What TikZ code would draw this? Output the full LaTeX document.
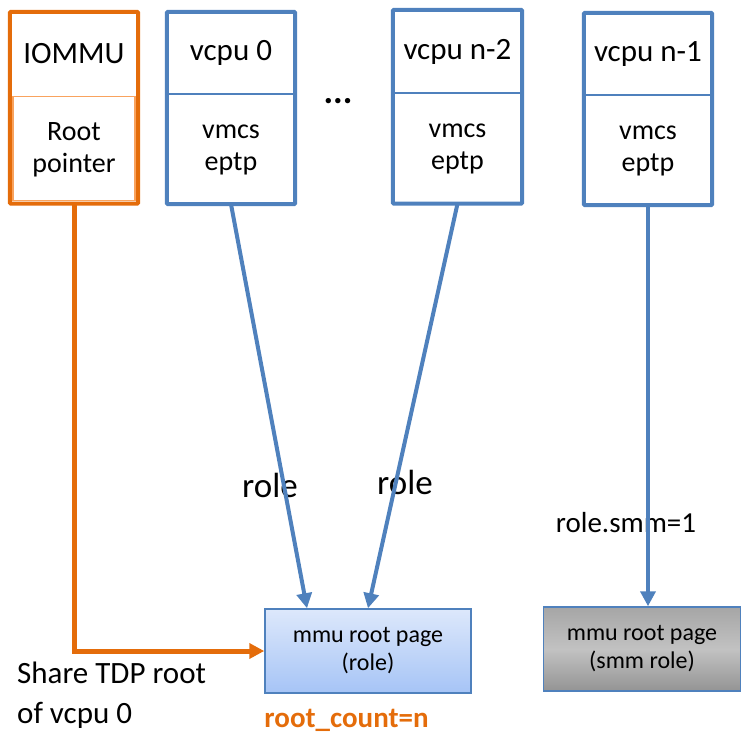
\documentclass[tikz,border=0pt]{standalone}
\usepackage{fontspec}
\setmainfont{Carlito}
\usetikzlibrary{arrows.meta}
\definecolor{boxblue}{HTML}{4F81BD}
\definecolor{iommuorange}{HTML}{E46C0A}
\definecolor{lightorange}{HTML}{F9A35E}
\definecolor{pagetop}{HTML}{DDE8FB}
\definecolor{pagebottom}{HTML}{A6C4F6}
\newcommand{\fsz}[2]{\fontsize{#1}{#2}\selectfont}

\begin{document}
\begin{tikzpicture}[x=1pt, y=-1pt,
    cell/.style={minimum width=128pt, inner sep=0pt, align=center, font=\fsz{31}{38}},
    body/.style={minimum width=128pt, inner sep=0pt, align=center, font=\fsz{28}{32}},
    frame/.style={line width=4pt, rounded corners=1pt},
    divider/.style={line width=1.5pt},
    link/.style={line width=4pt, boxblue, -{Triangle[length=15pt, width=15pt]}},
    page/.style={draw=boxblue, line width=1.5pt, minimum height=84pt,
      align=center, font=\fsz{24}{28}},
    lbl/.style={inner sep=0pt, font=\fsz{35}{40}}]
  \useasboundingbox (0,0) rectangle (742,736);

  \node[cell, minimum height=83pt] (iommu) at (74,53.5) {IOMMU};
  \node[body, minimum height=107pt] (iommuptr) at (74,150) {Root\\pointer};
  \draw[frame, iommuorange] (iommu.north west) rectangle (iommuptr.south east);
  \draw[lightorange, line width=1.5pt] ([shift={(3,0)}]iommuptr.north west)
    rectangle ([shift={(-3,-3)}]iommuptr.south east);

  \node[cell, minimum height=82pt] (cpu0) at (231,53) {vcpu 0};
  \node[body, minimum height=108pt] (cpu0eptp) at (231,150) {vmcs\\eptp};
  \draw[frame, boxblue] (cpu0.north west) rectangle (cpu0eptp.south east);
  \draw[divider, boxblue] (cpu0.south west) -- (cpu0.south east);

  \node[font=\bfseries\fsz{36}{40}] (dots) at (338,101) {...};

  \node[cell, minimum width=129pt, minimum height=83pt] (cpun2) at (457.5,51.5) {vcpu n-2};
  \node[body, minimum width=129pt, minimum height=109pt] (cpun2eptp) at (457.5,149) {vmcs\\eptp};
  \draw[frame, boxblue] (cpun2.north west) rectangle (cpun2eptp.south east);
  \draw[divider, boxblue] (cpun2.south west) -- (cpun2.south east);

  \node[cell, minimum height=82pt] (cpun1) at (648,54) {vcpu n-1};
  \node[body, minimum height=108pt] (cpun1eptp) at (648,151) {vmcs\\eptp};
  \draw[frame, boxblue] (cpun1.north west) rectangle (cpun1eptp.south east);
  \draw[divider, boxblue] (cpun1.south west) -- (cpun1.south east);

  \node[page, minimum width=206pt, top color=pagetop, bottom color=pagebottom]
    (mmu) at (368,651) {mmu root page\\(role)};
  \node[page, minimum width=197pt, top color=black!35, bottom color=black!42,
    middle color=black!24] (smm) at (642,649) {mmu root page\\(smm role)};

  \node[lbl] (role1) at (270,485) {role};
  \node[lbl] (role2) at (405,482) {role};
  \node[inner sep=0pt, font=\fsz{29}{34}] (smmrole) at (626,523) {role.smm=1};

  \draw[link] (cpu0eptp.south) -- ([xshift=-61pt]mmu.north);
  \draw[link] (cpun2eptp.south) -- (mmu.north);
  \draw[link] (cpun1eptp.south) -- (cpun1eptp.south |- smm.north);
  \draw[line width=5pt, iommuorange, -{Triangle[length=15pt, width=15pt]}]
    (iommuptr.south) |- (mmu.west);

  \node[anchor=north west, inner sep=0pt, align=left, font=\fsz{31}{40}]
    (share) at (17,662) {Share TDP root\\of vcpu 0};
  \node[anchor=west, inner sep=0pt, text=iommuorange, font=\bfseries\fsz{29}{34}]
    (count) at ([yshift=-27pt]mmu.south west) {root\_count=n};
\end{tikzpicture}
\end{document}
